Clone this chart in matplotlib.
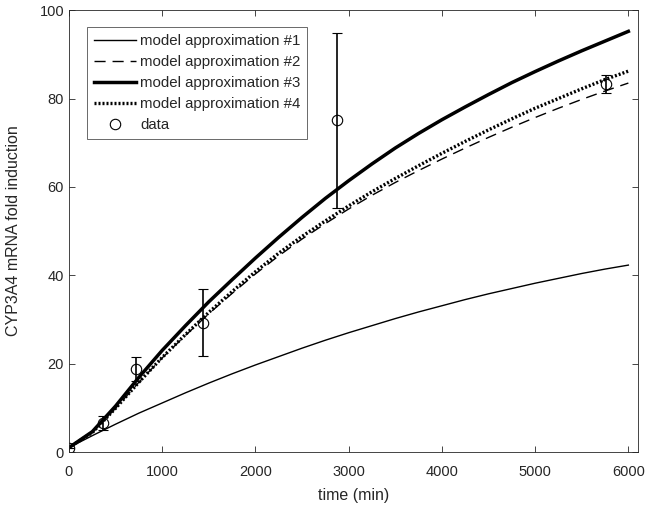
import numpy as np
import matplotlib
matplotlib.use('Agg')
import matplotlib.pyplot as plt

plt.rcParams['font.family'] = ['Liberation Sans', 'DejaVu Sans']

# model curves
t_model = [0, 250, 500, 750, 1000, 1250, 1500, 1750, 2000, 2250, 2500, 2750, 3000,
           3250, 3500, 3750, 4000, 4250, 4500, 4750, 5000, 5250, 5500, 5750, 6000]
model1 = [1.0, 3.7, 6.3, 8.8, 11.1, 13.4, 15.6, 17.7, 19.7, 21.6, 23.5, 25.3, 27.0,
          28.6, 30.2, 31.7, 33.1, 34.5, 35.8, 37.0, 38.2, 39.3, 40.4, 41.4, 42.3]
model2 = [1.0, 4.4, 9.9, 15.8, 21.3, 26.4, 31.3, 35.9, 40.3, 44.4, 48.2, 51.7, 55.0,
          58.1, 61.0, 63.7, 66.3, 68.8, 71.2, 73.5, 75.7, 77.8, 79.8, 81.7, 83.5]
model3 = [1.0, 4.6, 10.4, 16.9, 23.0, 28.6, 34.0, 39.0, 43.9, 48.6, 53.1, 57.4, 61.4,
          65.2, 68.8, 72.1, 75.2, 78.1, 80.9, 83.6, 86.1, 88.5, 90.8, 93.0, 95.2]
model4 = [1.0, 4.4, 9.9, 15.8, 21.4, 26.6, 31.6, 36.3, 40.8, 45.0, 48.8, 52.3, 55.7,
          58.9, 61.9, 64.8, 67.6, 70.3, 72.9, 75.4, 77.8, 80.0, 82.2, 84.3, 86.2]

# measured data
t_data = [0, 360, 720, 1440, 2880, 5760]
y_data = [1.0, 6.6, 18.7, 29.3, 75.1, 83.3]
y_err = [0.0, 1.6, 2.7, 7.6, 19.8, 2.05]

labels = ['model approximation #1', 'model approximation #2',
          'model approximation #3', 'model approximation #4', 'data']

fig = plt.figure(figsize=(6.47, 5.15), dpi=100)
ax = fig.add_axes([0.1066, 0.1223, 0.879, 0.858])

l1, = ax.plot(t_model, model1, color='k', lw=1.0)
l2, = ax.plot(t_model, model2, color='k', lw=1.0, ls=(0, (8, 5)))
l3, = ax.plot(t_model, model3, color='k', lw=2.5)
l4, = ax.plot(t_model, model4, color='k', lw=2.4, ls=(0, (0.6, 0.6)))
eb = ax.errorbar(t_data, y_data, yerr=y_err, fmt='o', mfc='none', mec='k', mew=0.8,
                 ms=7.5, ecolor='k', elinewidth=1.2, capsize=3.6, capthick=1.2)

ax.set_xlim(0, 6100)
ax.set_ylim(0, 100)
ax.set_xticks(np.arange(0, 6001, 1000))
ax.set_yticks(np.arange(0, 101, 20))
ax.tick_params(direction='in', top=True, right=True, length=4, width=0.6,
               labelsize=10.5, colors='#262626')
ax.tick_params(axis='x', pad=9)
for s in ax.spines.values():
    s.set_linewidth(0.6)
    s.set_color('#262626')

ax.set_xlabel('time (min)', fontsize=11.5, color='#262626', labelpad=7)
ax.set_ylabel('CYP3A4 mRNA fold induction', fontsize=11.5, color='#262626', labelpad=13)

leg = ax.legend([l1, l2, l3, l4, eb[0]], labels, loc='upper left',
                bbox_to_anchor=(0.0316, 0.9615), borderaxespad=0, fancybox=False,
                fontsize=10.8, handlelength=2.8, handletextpad=0.3,
                labelspacing=0.47, borderpad=0.45)
leg.get_frame().set_edgecolor('#262626')
leg.get_frame().set_linewidth(0.6)
for txt in leg.get_texts():
    txt.set_color('#262626')

fig.savefig('out.png', dpi=100)
